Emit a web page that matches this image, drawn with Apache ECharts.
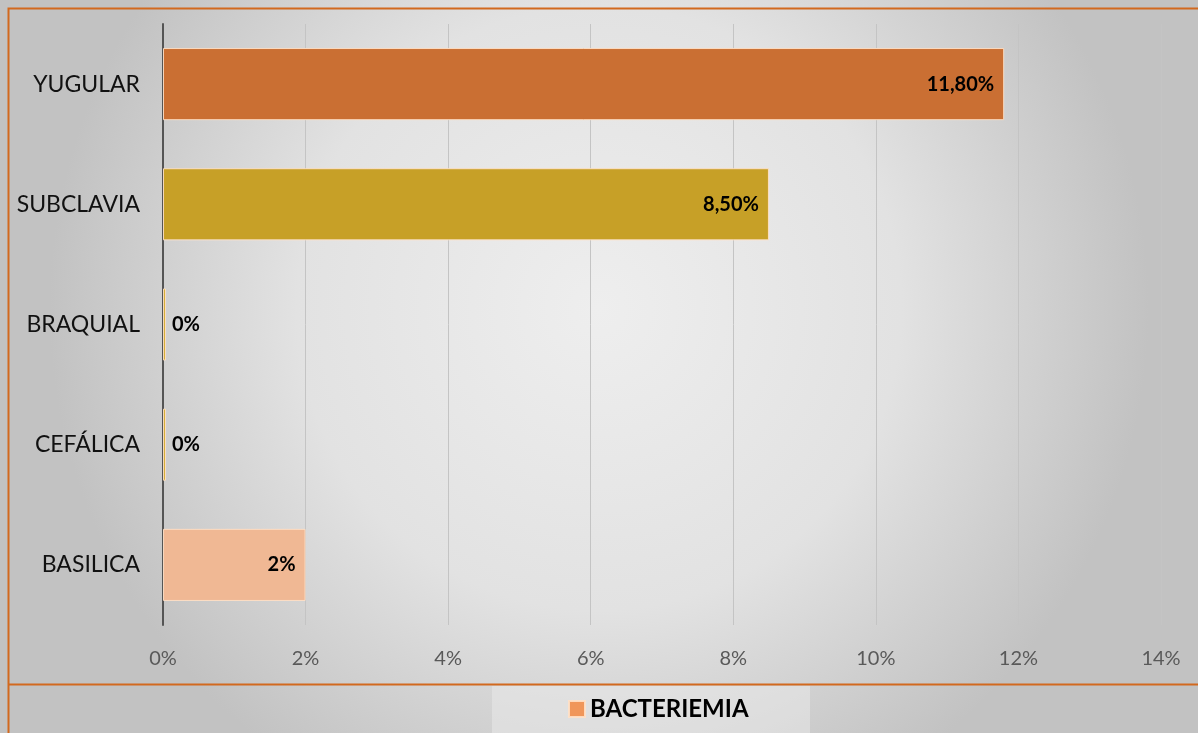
<!DOCTYPE html>
<html>
<head>
<meta charset="utf-8">
<script src="https://cdn.jsdelivr.net/npm/echarts@6/dist/echarts.min.js"></script>
<style>
  html, body { margin: 0; padding: 0; }
  #chart { width: 1198px; height: 733px; }
</style>
</head>
<body>
<div id="chart"></div>
<script>
// Catheter insertion site vs. bacteremia rate (%)
const categories = ['YUGULAR', 'SUBCLAVIA', 'BRAQUIAL', 'CEFÁLICA', 'BASILICA'];
const bacteriemia = [11.8, 8.5, 0, 0, 2];
const xTicks = [0, 2, 4, 6, 8, 10, 12, 14];
const seriesName = 'BACTERIEMIA';

const barColors = ['#CA6F33', '#C7A027', '#D2AE3A', '#D2AE3A', '#F0B894'];
const FONT = 'Lato, "Open Sans", sans-serif';

function fmt(v) {
  return Number.isInteger(v) ? v + '%' : v.toFixed(2).replace('.', ',') + '%';
}

const barData = bacteriemia.map((v, i) => ({
  value: v,
  itemStyle: { color: barColors[i] },
  label: v === 0
    ? { position: 'right', distance: 6 }
    : { position: 'insideRight', distance: 10 }
}));

const chart = echarts.init(document.getElementById('chart'));
chart.setOption({
  animation: false,
  graphic: [
    {
      type: 'rect', z: -20, silent: true,
      shape: { x: 0, y: 0, width: 1198, height: 733 },
      style: {
        fill: {
          type: 'radial', x: 0.5, y: 0.42, r: 0.75,
          colorStops: [
            { offset: 0, color: '#eeeeee' },
            { offset: 0.55, color: '#e2e2e2' },
            { offset: 1, color: '#c2c2c2' }
          ]
        }
      }
    },
    {
      type: 'rect', z: -19, silent: true,
      shape: { x: 492, y: 686, width: 318, height: 47 },
      style: { fill: 'rgba(238,238,238,0.45)' }
    },
    {
      type: 'polyline', z: 10, silent: true,
      shape: { points: [[8.5, 733], [8.5, 8.5], [1198, 8.5]] },
      style: { stroke: '#D2691E', lineWidth: 2, fill: null }
    },
    {
      type: 'line', z: 10, silent: true,
      shape: { x1: 8, y1: 684.5, x2: 1198, y2: 684.5 },
      style: { stroke: '#D2691E', lineWidth: 2 }
    }
  ],
  grid: { left: 163, right: 37, top: 24, bottom: 108, containLabel: false },
  legend: {
    data: [seriesName],
    left: 563,
    top: 692,
    icon: 'rect',
    itemWidth: 16,
    itemHeight: 16,
    itemGap: 8,
    textStyle: { fontFamily: FONT, fontSize: 24, fontWeight: 'bold', color: '#000' }
  },
  xAxis: {
    type: 'value',
    min: xTicks[0],
    max: xTicks[xTicks.length - 1],
    interval: xTicks[1] - xTicks[0],
    axisLine: { show: false },
    axisTick: { show: false },
    splitLine: { show: true, lineStyle: { color: '#c4c4c4', width: 1 } },
    axisLabel: {
      margin: 24,
      fontFamily: FONT, fontSize: 20, color: '#595959',
      formatter: v => v + '%'
    }
  },
  yAxis: {
    type: 'category',
    data: categories,
    inverse: true,
    axisLine: { show: true, lineStyle: { color: '#555555', width: 2 } },
    axisTick: { show: false },
    axisLabel: { margin: 23, fontFamily: FONT, fontSize: 23, color: '#111' }
  },
  series: [{
    name: seriesName,
    type: 'bar',
    data: barData,
    barCategoryGap: '40%',
    barMinHeight: 3,
    itemStyle: { color: '#F0965A', borderColor: 'rgba(255,225,200,0.9)', borderWidth: 1 },
    label: {
      show: true,
      fontFamily: FONT, fontSize: 20, fontWeight: 'bold', color: '#000',
      formatter: p => fmt(p.value)
    }
  }]
});
</script>
</body>
</html>
